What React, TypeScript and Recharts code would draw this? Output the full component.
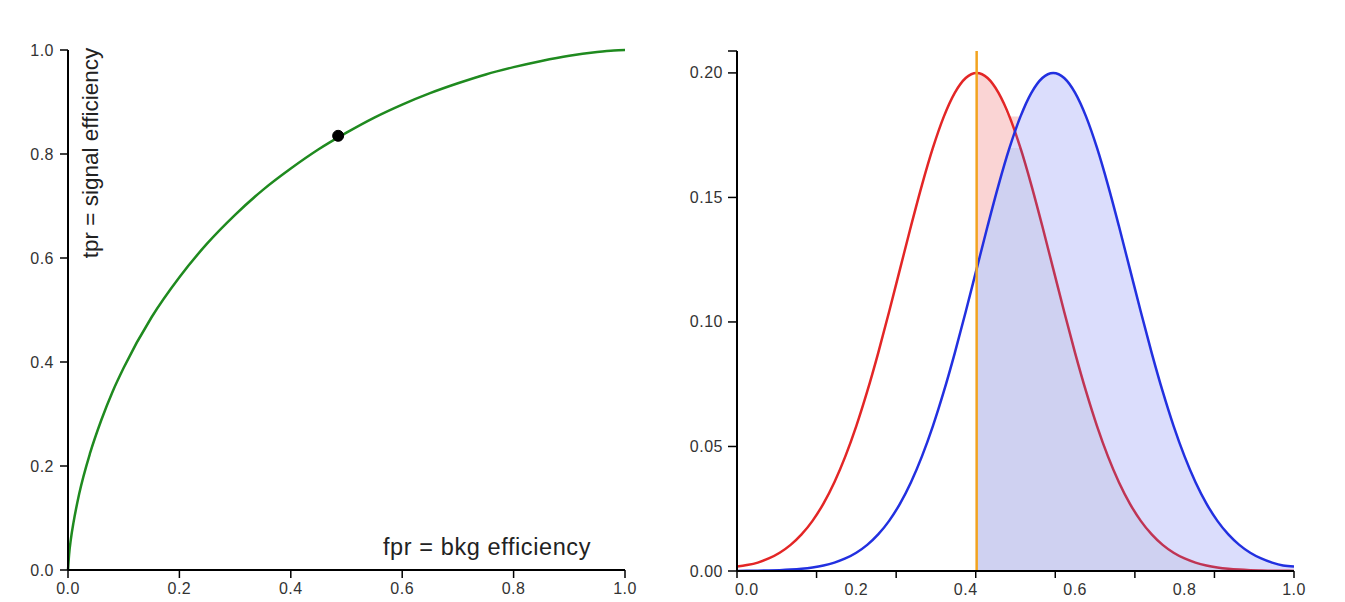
import React from 'react';
import {
  LineChart,
  Line,
  XAxis,
  YAxis,
  ReferenceDot,
  ComposedChart,
  Area,
  ReferenceLine,
} from 'recharts';

// ---------- Left chart: ROC curve ----------
const rocFpr = [0, 0.002, 0.005, 0.01, 0.02, 0.04, 0.06, 0.08, 0.1, 0.15, 0.2, 0.25, 0.3, 0.35, 0.4, 0.45, 0.5, 0.55, 0.6, 0.65, 0.7, 0.75, 0.8, 0.85, 0.9, 0.95, 0.98, 1.0];
const rocTpr = [0, 0.03, 0.058, 0.092, 0.146, 0.226, 0.289, 0.343, 0.389, 0.486, 0.563, 0.628, 0.683, 0.731, 0.772, 0.809, 0.841, 0.87, 0.895, 0.917, 0.936, 0.953, 0.967, 0.979, 0.989, 0.996, 0.999, 1.0];
const workingFpr = 0.485;
const workingTpr = 0.835;
const rocTicks = [0, 0.2, 0.4, 0.6, 0.8, 1.0];

// ---------- Right chart: score distributions ----------
const distX = [-0.018, 0, 0.02, 0.04, 0.06, 0.08, 0.1, 0.12, 0.14, 0.16, 0.18, 0.2, 0.22, 0.24, 0.26, 0.28, 0.3, 0.32, 0.34, 0.36, 0.38, 0.4, 0.42, 0.44, 0.46, 0.48, 0.5, 0.52, 0.54, 0.56, 0.58, 0.6, 0.62, 0.64, 0.66, 0.68, 0.7, 0.72, 0.74, 0.76, 0.78, 0.8, 0.82, 0.84, 0.86, 0.88, 0.9, 0.92, 0.94, 0.96, 0.98, 1.0];
const bkgDensity = [0.0018, 0.0024, 0.00338, 0.00503, 0.00733, 0.01048, 0.01468, 0.02013, 0.02707, 0.03566, 0.04602, 0.05818, 0.07209, 0.08751, 0.10409, 0.12131, 0.13851, 0.15496, 0.16987, 0.18245, 0.192, 0.19797, 0.2, 0.19797, 0.192, 0.18245, 0.16987, 0.15496, 0.13851, 0.12131, 0.10409, 0.08751, 0.07209, 0.05818, 0.04602, 0.03566, 0.02707, 0.02013, 0.01468, 0.01048, 0.00733, 0.00503, 0.00338, 0.00222, 0.00143, 0.0009, 0.00056, 0.00034, 0.0002, 0.00012, 0.00007, 0.00004];
const sigDensity = [0.00004, 0.00007, 0.00012, 0.0002, 0.00034, 0.00056, 0.0009, 0.00143, 0.00222, 0.00338, 0.00503, 0.00733, 0.01048, 0.01468, 0.02013, 0.02707, 0.03566, 0.04602, 0.05818, 0.07209, 0.08751, 0.10409, 0.12131, 0.13851, 0.15496, 0.16987, 0.18245, 0.192, 0.19797, 0.2, 0.19797, 0.192, 0.18245, 0.16987, 0.15496, 0.13851, 0.12131, 0.10409, 0.08751, 0.07209, 0.05818, 0.04602, 0.03566, 0.02707, 0.02013, 0.01468, 0.01048, 0.00733, 0.00503, 0.00338, 0.00222, 0.0018];
const cutValue = 0.42;
const distXLabels = [0, 0.2, 0.4, 0.6, 0.8, 1.0];
const distXMarks = [-0.018, 0.1274, 0.2729, 0.4183, 0.5637, 0.7092, 0.8546, 1.0];
const distYTicks = [0, 0.05, 0.1, 0.15, 0.2];
const distYMax = 0.2088;

const rocData = rocFpr.map((f, i) => ({ fpr: f, tpr: rocTpr[i] }));
const distData = distX.map((x, i) => {
  const b = bkgDensity[i];
  const s = sigDensity[i];
  const pass = x >= cutValue - 1e-9;
  return {
    x,
    bkg: b,
    sig: s,
    bkgExcess: pass ? [s, Math.max(b, s)] : null,
    sigFill: pass ? s : null,
    overlap: pass ? Math.min(b, s) : null,
  };
});

const FONT = '"Liberation Sans", Arial, Helvetica, sans-serif';
const tickStyle = { fontSize: 16, fill: '#333', fontFamily: FONT, letterSpacing: 0.5 };

const has = (arr: number[], v: number) => arr.some((a) => Math.abs(a - v) < 1e-6);

const DistXTick = (props: any) => {
  const { x, y, payload } = props;
  const v = payload.value as number;
  return (
    <g>
      {has(distXMarks, v) && (
        <line x1={x} x2={x} y1={y - 9} y2={y - 2} stroke="#000" strokeWidth={1.5} />
      )}
      {has(distXLabels, v) && (
        <text x={x} y={y} dy={15} textAnchor="middle" style={tickStyle}>
          {v.toFixed(1)}
        </text>
      )}
    </g>
  );
};

const DistYTick = (props: any) => {
  const { x, y, payload } = props;
  const v = payload.value as number;
  if (!has(distYTicks, v)) return <g />;
  return (
    <text x={x} y={y} dy={5.5} textAnchor="end" style={tickStyle}>
      {v.toFixed(2)}
    </text>
  );
};

const distXTickValues = [...distXMarks, ...distXLabels]
  .filter((v, i, a) => a.findIndex((w) => Math.abs(w - v) < 1e-6) === i)
  .sort((a, b) => a - b);

export default function App() {
  return (
    <div style={{ position: 'absolute', left: 0, top: 0, width: 1345, height: 602, background: '#fff' }}>
      <div style={{ position: 'absolute', left: 0, top: 0 }}>
        <LineChart width={672} height={602} data={rocData} margin={{ top: 50, right: 47, bottom: 2, left: 0 }}>
          <XAxis
            dataKey="fpr"
            type="number"
            domain={[0, 1]}
            ticks={rocTicks}
            interval={0}
            height={30}
            tickFormatter={(v: number) => v.toFixed(1)}
            tick={tickStyle}
            axisLine={{ stroke: '#000', strokeWidth: 2 }}
            tickLine={{ stroke: '#000', strokeWidth: 1.5 }}
            tickSize={8}
            tickMargin={5}
          />
          <YAxis
            type="number"
            domain={[0, 1]}
            ticks={rocTicks}
            interval={0}
            width={68}
            tickFormatter={(v: number) => v.toFixed(1)}
            tick={tickStyle}
            axisLine={{ stroke: '#000', strokeWidth: 2 }}
            tickLine={{ stroke: '#000', strokeWidth: 1.5 }}
            tickSize={8}
            tickMargin={6}
          />
          <Line
            type="monotone"
            dataKey="tpr"
            stroke="#1f8a1f"
            strokeWidth={2.5}
            dot={false}
            isAnimationActive={false}
          />
          <ReferenceDot x={workingFpr} y={workingTpr} r={5.5} fill="#000" stroke="#000" />
        </LineChart>
      </div>
      <svg
        width={672}
        height={602}
        style={{ position: 'absolute', left: 0, top: 0, pointerEvents: 'none' }}
      >
        <text
          x={0}
          y={0}
          transform="translate(98,153) rotate(-90)"
          textAnchor="middle"
          style={{ fontSize: 22.5, fill: '#222', fontFamily: FONT }}
        >
          tpr = signal efficiency
        </text>
        <text
          x={487}
          y={555}
          textAnchor="middle"
          style={{ fontSize: 23.5, fill: '#222', fontFamily: FONT, letterSpacing: 0.6 }}
        >
          fpr = bkg efficiency
        </text>
      </svg>
      <div style={{ position: 'absolute', left: 672, top: 0 }}>
        <ComposedChart width={673} height={602} data={distData} margin={{ top: 51, right: 51, bottom: 1, left: 0 }}>
          <XAxis
            dataKey="x"
            type="number"
            domain={[-0.018, 1]}
            allowDataOverflow
            ticks={distXTickValues}
            interval={0}
            height={30}
            tick={<DistXTick />}
            tickLine={false}
            axisLine={{ stroke: '#000', strokeWidth: 2 }}
            tickSize={8}
            tickMargin={1}
          />
          <YAxis
            type="number"
            domain={[0, distYMax]}
            allowDataOverflow
            ticks={[...distYTicks, distYMax]}
            interval={0}
            width={65}
            tick={<DistYTick />}
            axisLine={{ stroke: '#000', strokeWidth: 2 }}
            tickLine={{ stroke: '#000', strokeWidth: 1.5 }}
            tickSize={9}
            tickMargin={5}
          />
          <Area
            type="monotone"
            dataKey="bkgExcess"
            stroke="none"
            fill="#fad4d4"
            fillOpacity={1}
            isAnimationActive={false}
            connectNulls={false}
          />
          <Area
            type="monotone"
            dataKey="bkg"
            stroke="#e32626"
            strokeWidth={2.5}
            fill="none"
            fillOpacity={0}
            isAnimationActive={false}
          />
          <Area
            type="monotone"
            dataKey="sigFill"
            stroke="none"
            fill="#646ef0"
            fillOpacity={0.23}
            isAnimationActive={false}
            connectNulls={false}
          />
          <Area
            type="monotone"
            dataKey="overlap"
            stroke="none"
            fill="#10104a"
            fillOpacity={0.06}
            isAnimationActive={false}
            connectNulls={false}
          />
          <Line type="monotone" dataKey="sig" stroke="#2230e0" strokeWidth={2.5} dot={false} isAnimationActive={false} />
          <ReferenceLine x={cutValue} stroke="#f2a31f" strokeWidth={2.5} />
        </ComposedChart>
      </div>
    </div>
  );
}
